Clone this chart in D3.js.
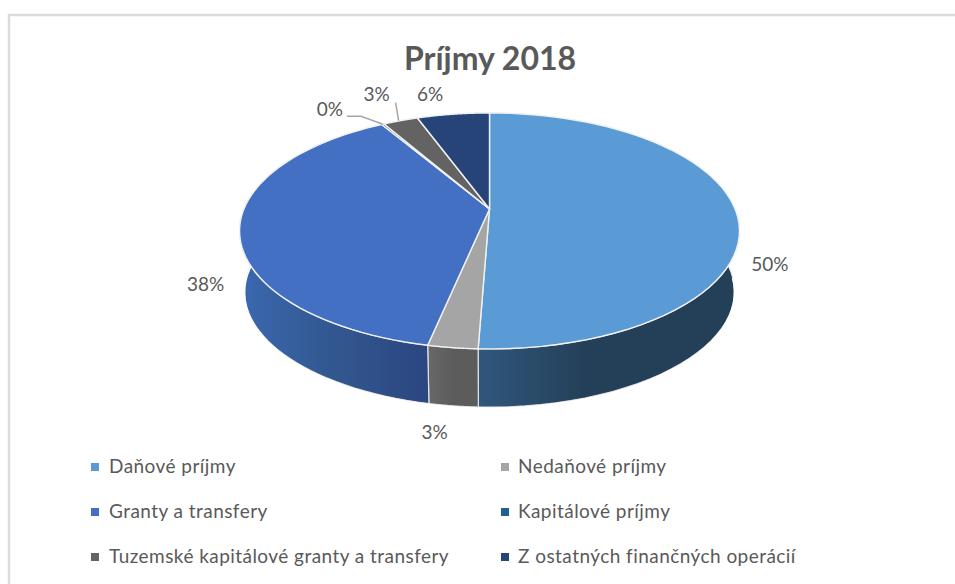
<!DOCTYPE html>
<html>
<head>
<meta charset="utf-8">
<script src="https://cdn.jsdelivr.net/npm/d3@7"></script>
<style>
    body { margin: 0; background: #fff; overflow: hidden; }
    text { font-family: Lato, sans-serif; fill: #595959; }
    .chartTitle { font-size: 32px; font-weight: 700; text-anchor: middle; }
    .pieLabel { font-size: 19px; text-anchor: middle; }
    .legendText { font-size: 19px; letter-spacing: 0.45px; }
    .leader { fill: none; stroke: #a6a6a6; stroke-width: 1.5; }
</style>
</head>
<body>
<script>
//Chart values
var categories = ["Daňové príjmy", "Nedaňové príjmy", "Granty a transfery", "Kapitálové príjmy", "Tuzemské kapitálové granty a transfery", "Z ostatných finančných operácií"];
var shares = [50.6, 2.7, 38.2, 0.2, 2.7, 5.6];
var percentLabels = ["50%", "3%", "38%", "0%", "3%", "6%"];
var titleText = "Príjmy 2018";

//Colors for top faces and walls
var topColors = ["#5b9bd5", "#a5a5a5", "#4370c2", "#255e91", "#636363", "#264478"];
var wallColors = [
    ["#30577c", "#243f58", "#243f58"],
    ["#686868", "#5c5c5c", "#5c5c5c"],
    ["#3a68b0", "#32578f", "#2b4680"],
    ["#1c4a70", "#1c4a70", "#1c4a70"],
    ["#4a4a4a", "#4a4a4a", "#4a4a4a"],
    ["#1c3359", "#1c3359", "#1c3359"]
];

//Label offsets from the rim point at the middle of each slice
var labelOffsets = [[34, 53], [-18, 84], [-34, 56], [-53, -15], [-24, -27], [-23, -20]];

//Chart frame dimensions
var width = 955,
    height = 584,
    centerX = 489.5,
    centerY = 209,
    radiusX = 245.6,
    radiusY = 113.9,
    tilt = 0.186,
    baseScale = 0.98,
    baseCenterY = 270;

var svg = d3.select("body")
    .append("svg")
    .attr("width", width)
    .attr("height", height);

var defs = svg.append("defs");

//Outer frame, only top and left edges are in view
svg.append("path")
    .attr("d", "M9," + height + "V15H" + width)
    .attr("fill", "none")
    .attr("stroke", "#dcdcdc")
    .attr("stroke-width", 2.5);

svg.append("text")
    .attr("class", "chartTitle")
    .attr("x", 490)
    .attr("y", 70)
    .text(titleText);

//Slices start at 12 o'clock and go clockwise
var pie = d3.pie().sort(null).value(function (d) { return d; });
var arcs = pie(shares);

//Project an angle on the tilted disc, scale 1 is the top rim
function project(angle, scale, cy) {
    var w = 1 + tilt * Math.cos(angle);
    return [
        centerX + scale * radiusX * Math.sin(angle) / w,
        cy - scale * radiusY * Math.cos(angle) / w
    ];
}

//Sample the rim between two angles
function rim(a0, a1, scale, cy) {
    return d3.range(0, 61).map(function (i) {
        return project(a0 + (a1 - a0) * i / 60, scale, cy);
    });
}

var line = d3.line();

//Walls first, the top faces cover whatever is behind them
arcs.forEach(function (d, i) {
    var top = rim(d.startAngle, d.endAngle, 1, centerY),
        base = rim(d.endAngle, d.startAngle, baseScale, baseCenterY),
        xs = d3.extent(top.concat(base), function (p) { return p[0]; });

    var grad = defs.append("linearGradient")
        .attr("id", "wall" + i)
        .attr("gradientUnits", "userSpaceOnUse")
        .attr("x1", i == 0 ? xs[0] : i == 2 ? xs[0] : xs[0])
        .attr("x2", xs[1]);

    grad.selectAll("stop")
        .data(wallColors[i])
        .enter()
        .append("stop")
        .attr("offset", function (c, k) { return i == 0 ? [0, 0.42, 1][k] : k / 2; })
        .attr("stop-color", function (c) { return c; });

    svg.append("path")
        .attr("class", "wall")
        .attr("d", line(top.concat(base)) + "Z")
        .attr("fill", "url(#wall" + i + ")")
        .attr("stroke", "#e4e4e4")
        .attr("stroke-width", 1.2);
});

//White edge of the walls only shows between slices, trim the outer line
svg.append("path")
    .attr("d", line(rim(Math.PI * 0.52, Math.PI * 1.56, baseScale, baseCenterY + 1.1)))
    .attr("fill", "none")
    .attr("stroke", "#fff")
    .attr("stroke-width", 1.5);

//Top faces
svg.selectAll(".slice")
    .data(arcs)
    .enter()
    .append("path")
    .attr("class", "slice")
    .attr("d", function (d) {
        return line([[centerX, centerY]].concat(rim(d.startAngle, d.endAngle, 1, centerY))) + "Z";
    })
    .attr("fill", function (d, i) { return topColors[i]; })
    .attr("stroke", "#f2f2f2")
    .attr("stroke-width", 1.4)
    .attr("stroke-linejoin", "round");

function midPoint(d) {
    return project((d.startAngle + d.endAngle) / 2, 1, centerY);
}

//Percent labels
svg.selectAll(".pieLabel")
    .data(arcs)
    .enter()
    .append("text")
    .attr("class", "pieLabel")
    .attr("x", function (d, i) { return midPoint(d)[0] + labelOffsets[i][0]; })
    .attr("y", function (d, i) { return midPoint(d)[1] + labelOffsets[i][1] + 7; })
    .text(function (d, i) { return percentLabels[i]; });

//Leader lines for the two labels that sit away from their slices
var zeroRim = midPoint(arcs[3]);
svg.append("path")
    .attr("class", "leader")
    .attr("d", line([[zeroRim[0] - 36, zeroRim[1] - 8], [zeroRim[0] - 22, zeroRim[1] - 8], zeroRim]));

var thirdRim = midPoint(arcs[4]);
svg.append("path")
    .attr("class", "leader")
    .attr("d", line([[thirdRim[0] - 5, thirdRim[1] - 18], [thirdRim[0] - 2, thirdRim[1]]]));

//Legend in two columns and three rows
var legendCol = d3.scaleOrdinal().domain([0, 1]).range([91, 501]),
    legendRow = d3.scaleOrdinal().domain([0, 1, 2]).range([467, 512, 557]);

var legend = svg.selectAll(".legendItem")
    .data(categories)
    .enter()
    .append("g")
    .attr("class", "legendItem")
    .attr("transform", function (d, i) {
        return "translate(" + legendCol(i % 2) + "," + legendRow(Math.floor(i / 2)) + ")";
    });

legend.append("rect")
    .attr("x", 0)
    .attr("y", -4)
    .attr("width", 8)
    .attr("height", 8)
    .attr("fill", function (d, i) { return topColors[i]; });

legend.append("text")
    .attr("class", "legendText")
    .attr("x", function (d, i) { return i % 2 ? 17 : 18; })
    .attr("y", 6)
    .text(function (d) { return d; });
</script>
</body>
</html>
